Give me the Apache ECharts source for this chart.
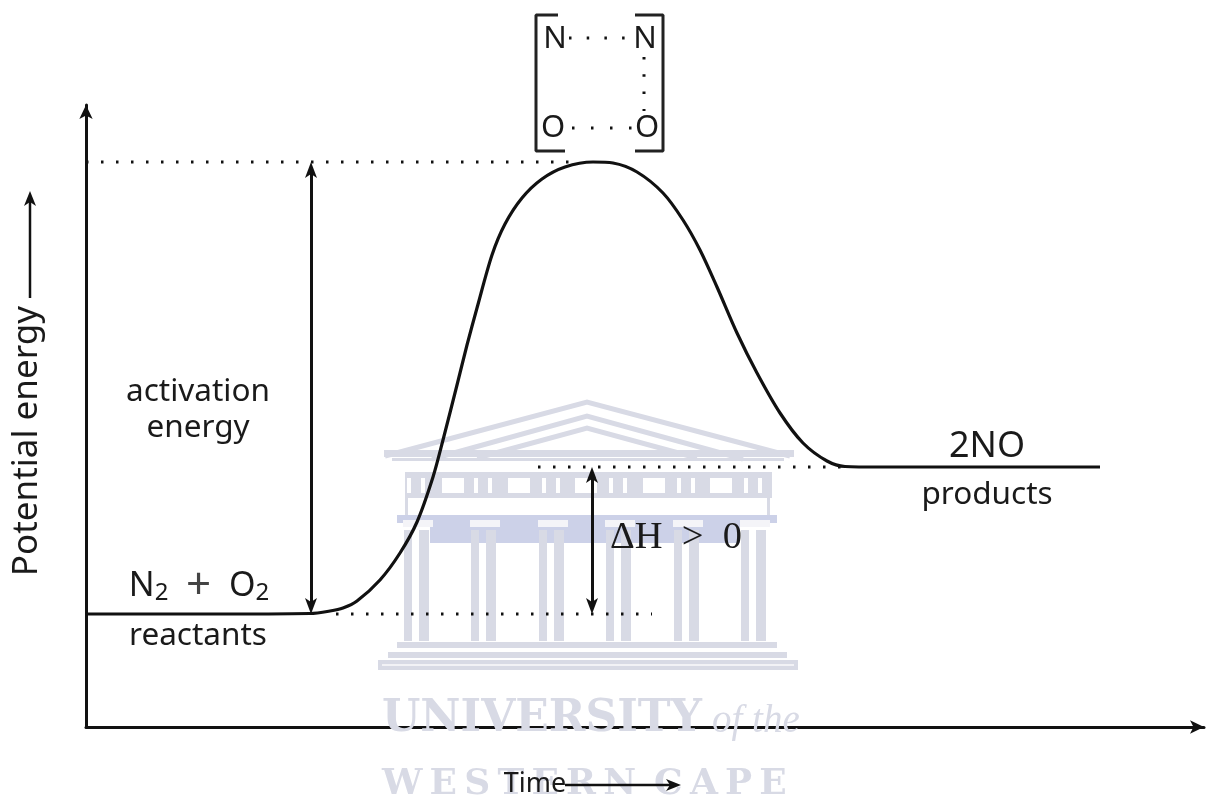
<!DOCTYPE html>
<html><head><meta charset="utf-8">
<script src="https://cdn.jsdelivr.net/npm/echarts@6/dist/echarts.min.js"></script>
<style>html,body{margin:0;padding:0;background:#fff}#c{width:1206px;height:798px}</style>
</head><body><div id="c"></div>
<script>
// Energy profile, axis units: x 0..112, y 0..62.2
const curveX = [0,12,22.4,24.4,25.7,27.1,29.4,31.4,33.1,34.7,35.7,37.1,38.1,39.1,40.6,41.9,43.6,45.6,47.9,50.7,52.7,55.1,57.7,59.7,61.4,63.1,65.1,67.1,69.4,71.7,74.1,75.9,79.4,90,101.4];
const curveY = [11.3,11.3,11.35,11.6,11.9,12.6,14.7,17.4,20.5,25,28.7,34.2,38.2,41.9,47.2,50.3,52.9,54.8,56,56.5,56.4,55.5,53.4,50.7,47.7,44,39.4,35.4,31.4,28.4,26.6,26.05,26,26,26];
const peakLevelX=[0,49.4], peakLevelY=[56.5,56.5];
const reactLevelX=[25,56.6], reactLevelY=[11.3,11.3];
const prodLevelX=[45.2,76.6], prodLevelY=[26,26];
const activationArrow=[[22.5,55.7],[22.5,12.1]];
const deltaArrow=[[50.6,25.2],[50.6,12.1]];
const bracketL=[[47.2,71.2],[45,71.2],[45,57.6],[47.9,57.6]];
const bracketR=[[54.9,71.2],[57.7,71.2],[57.7,57.6],[54.9,57.6]];
const bondTop=[[48.3,68.9],[54,68.9]], bondRight=[[55.8,67],[55.8,61.6]], bondBottom=[[48.6,59.9],[54.7,59.9]];
const labels=[
 ['activation',198,392,31.5],['energy',198,428,31.5],['reactants',198,636,31.5],
 ['2NO',987,447,36],['products',987,495,31.5],['N',555,39,31],['N',645,39,31],['O',553,128,31],['O',647,128,31]
];
const SANS='"Noto Sans",sans-serif';
const wmC='#d8dae5';
const pediment=[
 [[385,456],[587,402],[790,456]],
 [[432,459],[587,416],[743,459]],
 [[477,458],[587,428],[697,458]]
];
const columns=[418,485,553,620,688,755];
const windows=[442,508,575,643,710];

function wm(){
 const e=[];
 const R=(x,y,w,h,c)=>e.push({type:'rect',shape:{x,y,width:w,height:h},style:{fill:c||wmC},silent:true,z:1});
 pediment.forEach(p=>e.push({type:'polyline',shape:{points:p},style:{stroke:wmC,lineWidth:5,fill:null},z:1}));
 R(384,450,410,7);R(392,458,392,3);
 R(405,472,367,26);
 windows.forEach(x=>R(x,478,22,15,'#fff'));
 columns.forEach(x=>{R(x-11,478,4,15,'#fff');R(x+3,478,4,15,'#fff');});
 R(405,498,3,20);R(767,498,3,20);
 R(397,515,380,8,'#ccd1e8');R(430,523,310,20,'#ccd1e8');
 columns.forEach(x=>{
  R(x-15,520,30,7,'#f4f4f8');
  R(x-14,530,8,111);R(x+1,530,10,111);
 });
 R(397,642,380,6);R(388,652,399,6);R(378,660,420,10);R(382,664,412,2,'#f2f2f6');
 e.push({type:'text',style:{text:'UNIVERSITY',x:382,y:720,verticalAlign:'middle',fontFamily:'"DejaVu Serif",serif',fontWeight:'bold',fontSize:44,fill:wmC},z:1});
 e.push({type:'text',style:{text:'of the',x:712,y:722,verticalAlign:'middle',fontFamily:'"Liberation Serif",serif',fontStyle:'italic',fontSize:39,fill:wmC},z:1});
 e.push({type:'text',style:{text:'W\u2009E\u2009S\u2009T\u2009E\u2009R\u2009N\u2002C\u2009A\u2009P\u2009E',x:382,y:785,verticalAlign:'middle',fontFamily:'"DejaVu Serif",serif',fontWeight:'bold',fontSize:36,fill:wmC},z:1});
 return e;
}
function texts(){
 const e=labels.map(l=>({type:'text',z:100,style:{text:l[0],x:l[1],y:l[2],align:'center',verticalAlign:'middle',fontFamily:SANS,fontSize:l[3],fill:'#1a1a1a'}}));
 e.push({type:'text',z:100,style:{text:'N{s|2}  {p|+}  O{s|2}',x:199,y:586,align:'center',verticalAlign:'middle',fontFamily:SANS,fontSize:34,fill:'#1a1a1a',
   rich:{s:{fontSize:24,fontFamily:SANS,padding:[14,0,0,0],fill:'#1a1a1a'},p:{fontSize:44,fontFamily:SANS,fill:'#444'}}}});
 e.push({type:'text',z:100,style:{text:'ΔH  >  0',x:610,y:538,verticalAlign:'middle',fontFamily:'"Liberation Serif",serif',fontSize:38.5,fill:'#1a1a1a'}});
 e.push({type:'text',z:100,style:{text:'Time',x:535,y:784,align:'center',verticalAlign:'middle',fontFamily:SANS,fontSize:27,fill:'#1a1a1a'}});
 e.push({type:'text',z:100,rotation:Math.PI/2,x:27,y:441,style:{text:'Potential energy',x:0,y:0,align:'center',verticalAlign:'middle',fontFamily:SANS,fontSize:35,fill:'#1a1a1a'}});
 e.push({type:'line',z:100,shape:{x1:565,y1:785,x2:672,y2:785},style:{stroke:'#111',lineWidth:2.5}});
 e.push({type:'polygon',z:100,shape:{points:[[681,785],[666,779],[670,785],[666,791]]},style:{fill:'#111'}});
 e.push({type:'line',z:100,shape:{x1:30,y1:298,x2:30,y2:200},style:{stroke:'#111',lineWidth:2.5}});
 e.push({type:'polygon',z:100,shape:{points:[[30,191],[24,206],[30,202],[36,206]]},style:{fill:'#111'}});
 return e;
}
const zip=(xs,ys)=>xs.map((x,i)=>[x,ys[i]]);
const dotted=(data,dash)=>({type:'line',data,symbol:'none',clip:false,silent:true,z:3,lineStyle:{color:'#111',width:3,type:dash||[2.5,12.5]}});
const solid=(data)=>({type:'line',data,symbol:'none',clip:false,silent:true,z:4,lineStyle:{color:'#222',width:3}});
const head='path://M0,0 L6,16 L0,12 L-6,16 Z';
const arrow=(pts)=>({type:'line',data:[],symbol:'none',silent:true,markLine:{silent:true,animation:false,symbol:[head,head],symbolSize:[12,16],label:{show:false},
  lineStyle:{color:'#111',width:3,type:'solid'},data:[[{coord:pts[0]},{coord:pts[1]}]]}});
const chart=echarts.init(document.getElementById('c'),null,{renderer:'canvas'});
const axisLine=()=>({show:true,onZero:false,symbol:['none','arrow'],symbolSize:[10,14],lineStyle:{color:'#111',width:3}});
chart.setOption({
 animation:false,backgroundColor:'#fff',
 grid:{left:86,top:105,width:1118,height:622},
 xAxis:{type:'value',min:0,max:111.8,axisLine:axisLine(),axisTick:{show:false},axisLabel:{show:false},splitLine:{show:false}},
 yAxis:{type:'value',min:0,max:62.2,axisLine:axisLine(),axisTick:{show:false},axisLabel:{show:false},splitLine:{show:false}},
 graphic:{elements:wm().concat(texts())},
 series:[
  dotted(zip(peakLevelX,peakLevelY)),dotted(zip(reactLevelX,reactLevelY)),dotted(zip(prodLevelX,prodLevelY)),
  dotted(bondTop,[2.5,15.2]),dotted(bondRight,[2.5,14.8]),dotted(bondBottom,[2.5,16.5]),
  {type:'line',data:zip(curveX,curveY),symbol:'none',smooth:0.3,silent:true,z:5,lineStyle:{color:'#111',width:3.2}},
  solid(bracketL),solid(bracketR),
  arrow(activationArrow),arrow(deltaArrow)
 ]
});
</script></body></html>
